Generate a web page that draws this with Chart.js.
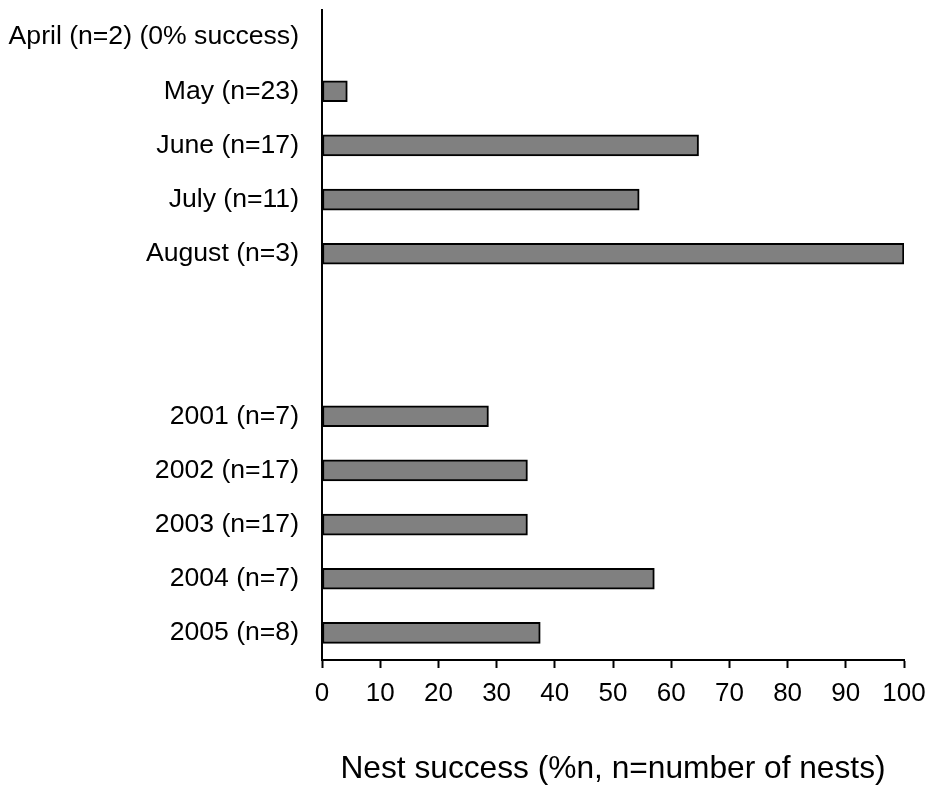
<!DOCTYPE html>
<html>
<head>
<meta charset="utf-8">
<script src="https://cdn.jsdelivr.net/npm/chart.js@4"></script>
<style>
  html, body { margin: 0; padding: 0; background: #ffffff; }
  #wrap { width: 927px; height: 789px; position: relative; }
</style>
</head>
<body>
<div id="wrap"><canvas id="chart" width="927" height="789"></canvas></div>
<script>
// Nest success by month (top group) and by year (bottom group); blank rows separate the groups
const categories = [
  'April (n=2) (0% success)',
  'May (n=23)',
  'June (n=17)',
  'July (n=11)',
  'August (n=3)',
  '',
  '',
  '2001 (n=7)',
  '2002 (n=17)',
  '2003 (n=17)',
  '2004 (n=7)',
  '2005 (n=8)'
];
const successPct = [0, 4.35, 64.7, 54.5, 100, null, null, 28.6, 35.3, 35.3, 57.1, 37.5];
const xTicks = [0, 10, 20, 30, 40, 50, 60, 70, 80, 90, 100];
const xTitle = 'Nest success (%n, n=number of nests)';

const FONT = "'Liberation Sans', Arial, sans-serif";

new Chart(document.getElementById('chart'), {
  type: 'bar',
  data: {
    labels: categories,
    datasets: [{
      data: successPct,
      backgroundColor: '#808080',
      borderColor: '#000000',
      borderWidth: 2,
      borderSkipped: false,
      barThickness: 21
    }]
  },
  options: {
    indexAxis: 'y',
    responsive: false,
    animation: false,
    layout: { padding: { left: 0, right: 23, top: 10, bottom: 0 } },
    plugins: { legend: { display: false }, tooltip: { enabled: false } },
    scales: {
      y: {
        afterFit: (s) => {
          s.width = 322;
          s.paddingTop = 0;
          s.paddingBottom = 0;
        },
        grid: { display: false, drawTicks: false },
        border: { display: true, color: '#000000', width: 2 },
        ticks: {
          autoSkip: false,
          padding: 23,
          color: '#000000',
          font: { family: FONT, size: 26.6 }
        }
      },
      x: {
        min: 0,
        max: 100,
        afterFit: (s) => {
          s.height = 129;
          s.paddingLeft = 0;
          s.paddingRight = 0;
        },
        afterBuildTicks: (s) => { s.ticks = xTicks.map(v => ({ value: v })); },
        grid: {
          display: true,
          drawOnChartArea: false,
          drawTicks: true,
          tickLength: 8,
          tickWidth: 2,
          color: '#000000'
        },
        border: { display: true, color: '#000000', width: 2 },
        ticks: {
          padding: 10,
          color: '#000000',
          maxRotation: 0,
          font: { family: FONT, size: 26 }
        },
        title: {
          display: true,
          text: xTitle,
          color: '#000000',
          font: { family: FONT, size: 31.7 },
          padding: { top: 0, bottom: 1 }
        }
      }
    }
  }
});
</script>
</body>
</html>
